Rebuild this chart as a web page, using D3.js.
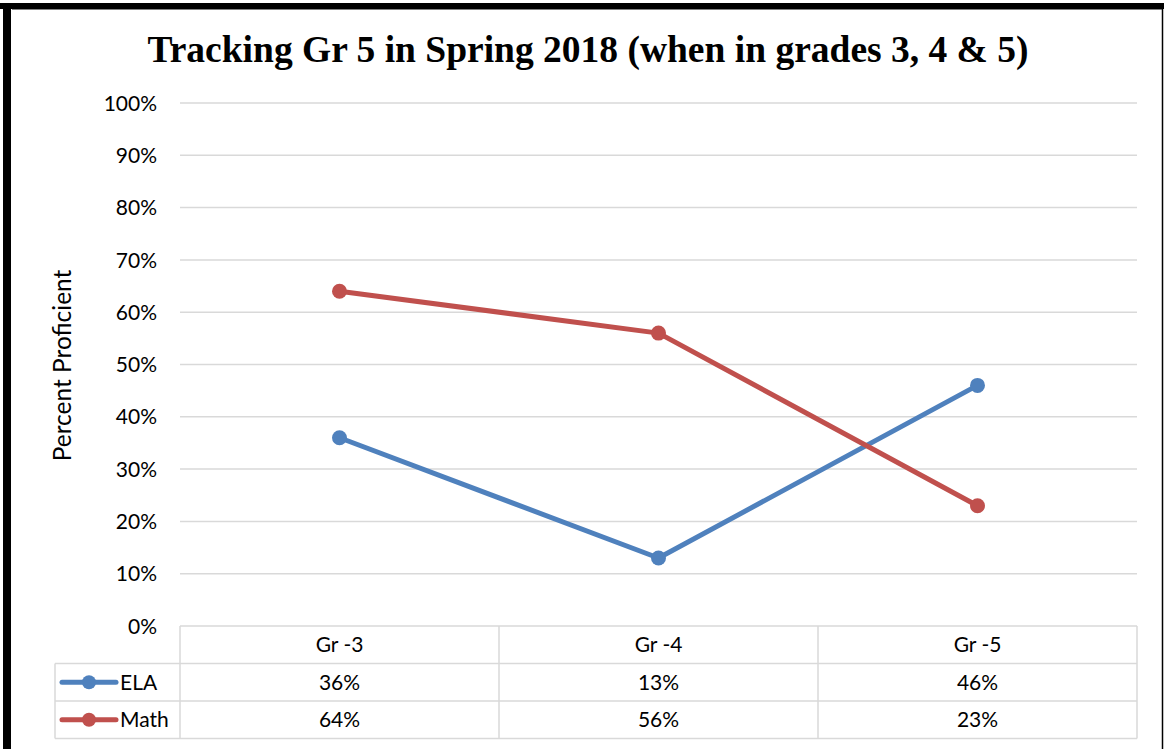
<!DOCTYPE html>
<html>
<head>
<meta charset="utf-8">
<script src="https://cdn.jsdelivr.net/npm/d3@7"></script>
<style>
  html, body { margin: 0; padding: 0; background: #fff; }
  svg { display: block; }
  .axis path, .axis line { display: none; }
  .axis text { font-family: Lato, "Open Sans", sans-serif; font-size: 21px; fill: #000; }
</style>
</head>
<body>
<svg id="chart" width="1164" height="749"></svg>
<script>
// Chart data
const categories = ["Gr -3", "Gr -4", "Gr -5"];
const elaValues = [0.36, 0.13, 0.46];
const mathValues = [0.64, 0.56, 0.23];
const seriesNames = ["ELA", "Math"];
const seriesColors = ["#4f81bd", "#c0504d"];
const yTicks = [0, 0.1, 0.2, 0.3, 0.4, 0.5, 0.6, 0.7, 0.8, 0.9, 1.0];
const titleText = "Tracking Gr 5 in Spring 2018 (when in grades 3, 4 & 5)";
const yAxisTitle = "Percent Proficient";

const series = [
  { name: seriesNames[0], values: elaValues, color: seriesColors[0] },
  { name: seriesNames[1], values: mathValues, color: seriesColors[1] }
];

const svg = d3.select("#chart");
const W = 1164, H = 749;
const plot = { left: 180, right: 1137, top: 103, bottom: 626 };
const rowH = 37.5;
const tableLeft = 55;
const fontSans = "Lato, 'Open Sans', sans-serif";
const textSize = 21;

// Outer frame
svg.append("rect").attr("x", 0).attr("y", 0).attr("width", W).attr("height", H).attr("fill", "#fff");
svg.append("line").attr("x1", 0).attr("x2", W).attr("y1", 6).attr("y2", 6)
  .attr("stroke", "#000").attr("stroke-width", 6);
svg.append("line").attr("x1", 7).attr("x2", 7).attr("y1", 3).attr("y2", H)
  .attr("stroke", "#000").attr("stroke-width", 8);
svg.append("line").attr("x1", 12).attr("x2", 1162).attr("y1", 9.5).attr("y2", 9.5)
  .attr("stroke", "#808080").attr("stroke-width", 1);
svg.append("line").attr("x1", 1162.5).attr("x2", 1162.5).attr("y1", 3).attr("y2", H)
  .attr("stroke", "#000").attr("stroke-width", 1.5);

// Scales
const x = d3.scaleBand().domain(categories).range([plot.left, plot.right]);
const y = d3.scaleLinear().domain([0, 1]).range([plot.bottom, plot.top]);

// Gridlines
svg.append("g").selectAll("line").data(yTicks.filter(d => d > 0)).join("line")
  .attr("x1", plot.left).attr("x2", plot.right)
  .attr("y1", d => y(d)).attr("y2", d => y(d))
  .attr("stroke", "#d9d9d9").attr("stroke-width", 1.5);

// Y axis labels
svg.append("g").attr("class", "axis")
  .attr("transform", `translate(${plot.left - 23},0)`)
  .call(d3.axisLeft(y).tickValues(yTicks).tickFormat(d3.format(".0%")).tickSize(0).tickPadding(0))
  .selectAll("text").attr("dy", "0.34em");

// Y axis title
svg.append("text")
  .attr("transform", `translate(71,${(plot.top + plot.bottom) / 2 + 1}) rotate(-90)`)
  .attr("text-anchor", "middle")
  .attr("font-family", fontSans).attr("font-size", 24.5)
  .text(yAxisTitle);

// Title
svg.append("text")
  .attr("x", 588).attr("y", 62)
  .attr("text-anchor", "middle")
  .attr("font-family", "'Liberation Serif', 'Times New Roman', serif")
  .attr("font-weight", "bold").attr("font-size", 37.5)
  .text(titleText);

// Data table
const tableG = svg.append("g");
const gridColor = "#d9d9d9";
const rowsTop = plot.bottom;
// horizontal lines
[0, 1, 2, 3].forEach(i => {
  const yy = rowsTop + i * rowH;
  tableG.append("line")
    .attr("x1", i === 0 ? plot.left : tableLeft).attr("x2", plot.right)
    .attr("y1", yy).attr("y2", yy)
    .attr("stroke", gridColor).attr("stroke-width", 1.5);
});
// vertical lines
const vxs = [plot.left].concat(categories.map(c => x(c) + x.bandwidth()));
vxs.forEach(vx => {
  tableG.append("line").attr("x1", vx).attr("x2", vx)
    .attr("y1", rowsTop).attr("y2", rowsTop + 3 * rowH)
    .attr("stroke", gridColor).attr("stroke-width", 1.5);
});
tableG.append("line").attr("x1", tableLeft).attr("x2", tableLeft)
  .attr("y1", rowsTop + rowH).attr("y2", rowsTop + 3 * rowH)
  .attr("stroke", gridColor).attr("stroke-width", 1.5);

// category header
tableG.selectAll("text.cat").data(categories).join("text")
  .attr("class", "cat")
  .attr("x", d => x(d) + x.bandwidth() / 2)
  .attr("y", rowsTop + rowH / 2 + 7)
  .attr("text-anchor", "middle")
  .attr("font-family", fontSans).attr("font-size", textSize)
  .text(d => d);

const fmt = d3.format(".0%");
series.forEach((s, si) => {
  const rowY = rowsTop + (si + 1) * rowH + rowH / 2;
  // legend key
  tableG.append("line").attr("x1", 62).attr("x2", 116)
    .attr("y1", rowY).attr("y2", rowY)
    .attr("stroke", s.color).attr("stroke-width", 5).attr("stroke-linecap", "round");
  tableG.append("circle").attr("cx", 89).attr("cy", rowY).attr("r", 7).attr("fill", s.color);
  tableG.append("text").attr("x", 120).attr("y", rowY + 7.5)
    .attr("font-family", fontSans).attr("font-size", textSize)
    .text(s.name);
  // values
  tableG.selectAll(null).data(s.values).join("text")
    .attr("x", (d, i) => x(categories[i]) + x.bandwidth() / 2)
    .attr("y", rowY + 7.5)
    .attr("text-anchor", "middle")
    .attr("font-family", fontSans).attr("font-size", textSize)
    .text(d => fmt(d));
});

// Lines and markers
const line = d3.line()
  .x((d, i) => x(categories[i]) + x.bandwidth() / 2)
  .y(d => y(d));

series.forEach(s => {
  svg.append("path").datum(s.values)
    .attr("d", line)
    .attr("fill", "none")
    .attr("stroke", s.color).attr("stroke-width", 5)
    .attr("stroke-linejoin", "round").attr("stroke-linecap", "round");
  svg.append("g").selectAll("circle").data(s.values).join("circle")
    .attr("cx", (d, i) => x(categories[i]) + x.bandwidth() / 2)
    .attr("cy", d => y(d))
    .attr("r", 7.5)
    .attr("fill", s.color);
});
</script>
</body>
</html>
